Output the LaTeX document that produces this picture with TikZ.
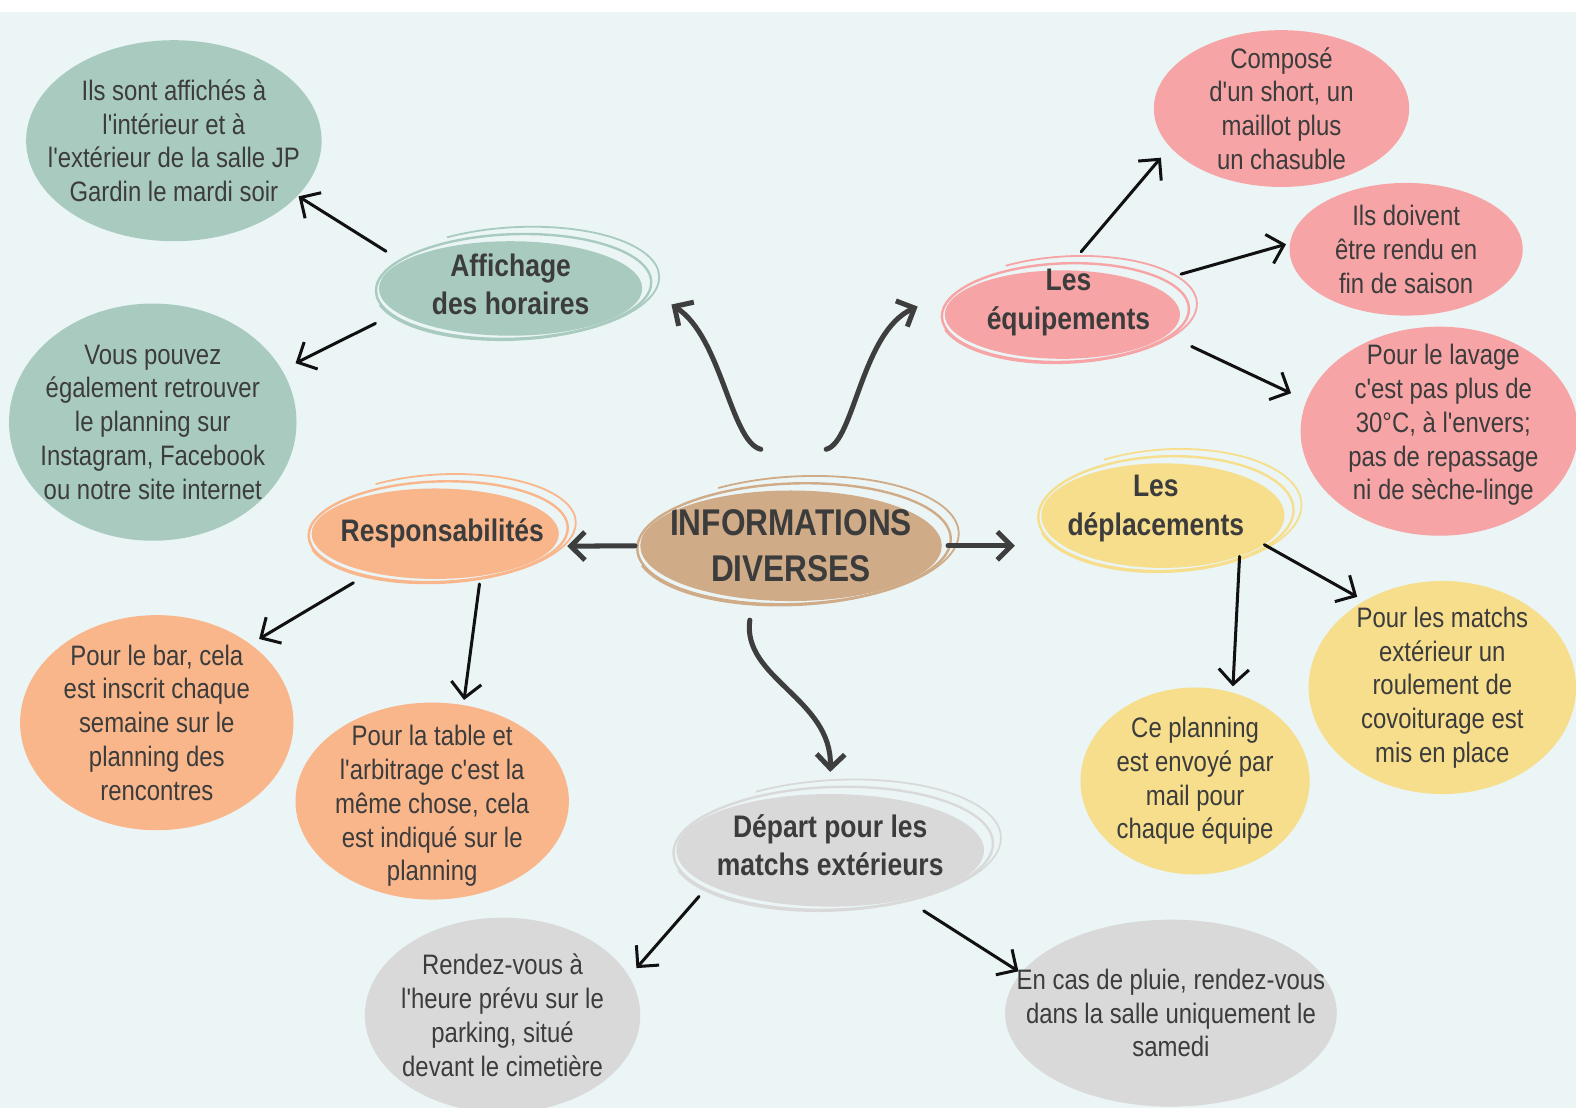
\documentclass[tikz,border=0pt]{standalone}
\usepackage{fontspec}
\newfontfamily\cond{Liberation Sans}[FakeStretch=0.85]
\usetikzlibrary{arrows.meta,shapes.geometric,calc}
\definecolor{bg}{HTML}{EBF5F6}
\definecolor{grn}{HTML}{A9CBBF}
\definecolor{pnk}{HTML}{F6A4A5}
\definecolor{org}{HTML}{F9B68B}
\definecolor{ylw}{HTML}{F6DE8C}
\definecolor{gry}{HTML}{D9D9D9}
\definecolor{tan}{HTML}{CFAB87}
\definecolor{txt}{HTML}{3C3C3C}
\definecolor{thk}{HTML}{3E3E3E}
\definecolor{thn}{HTML}{111111}
\newcommand\bodyf{\cond\fontsize{28}{33.6}\selectfont}
\newcommand\headf{\cond\bfseries\fontsize{31}{38}\selectfont}
\newcommand\mainf{\cond\bfseries\fontsize{37}{45}\selectfont}
\newcommand\scribble[4]{%
  \pgfmathsetmacro\ra{#3+6}\pgfmathsetmacro\rb{#4+5}%
  \pgfmathsetmacro\rc{#3+11}\pgfmathsetmacro\rd{#4+9}%
  \draw[#2, line width=2.4pt, shift={($(#1)+(3,-2)$)}, rotate=2] (0,0) ellipse [x radius=\ra, y radius=\rb];
  \draw[#2, line width=1.8pt, shift={($(#1)+(6,-5)$)}, rotate=3] (-118:\rc\space and \rd) arc[start angle=-118, end angle=165, x radius=\rc, y radius=\rd];
}
\tikzset{
  leaf/.style={ellipse, inner sep=0pt, draw=none},
  bodytxt/.style={text=txt, align=center, font=\bodyf},
  headtxt/.style={text=txt, align=center, font=\headf},
  maintxt/.style={text=txt, align=center, font=\mainf},
  thinarr/.style={draw=thn, line width=3pt, line cap=round, -{Straight Barb[length=15pt,width=30pt]}},
  thickarr/.style={draw=thk, line width=5pt, line cap=round, -{Straight Barb[length=14pt,width=28pt]}},
}
\begin{document}
\begin{tikzpicture}[x=1pt,y=-1pt]
\useasboundingbox (0,0) rectangle (1568,1102);
\fill[white] (0,0) rectangle (1568,1102);
\fill[bg] (0,12) rectangle (1568,1102);

% leaf ellipses
\node[leaf, fill=grn, minimum width=294pt, minimum height=200pt,
  label={[bodytxt]center:{Ils sont affichés à\\l'intérieur et à\\l'extérieur de la salle JP\\Gardin le mardi soir}}] (g1) at (173,140) {};
\node[leaf, fill=grn, minimum width=286pt, minimum height=236pt,
  label={[bodytxt]center:{Vous pouvez\\également retrouver\\le planning sur\\Instagram, Facebook\\ou notre site internet}}] (g2) at (152,420) {};
\node[leaf, fill=pnk, minimum width=254pt, minimum height=156pt,
  label={[bodytxt]center:{Composé\\d'un short, un\\maillot plus\\un chasuble}}] (p1) at (1275,108) {};
\node[leaf, fill=pnk, minimum width=232pt, minimum height=132pt,
  label={[bodytxt]center:{Ils doivent\\être rendu en\\fin de saison}}] (p2) at (1399,248) {};
\node[leaf, fill=pnk, minimum width=276pt, minimum height=208pt,
  label={[bodytxt, xshift=4pt, yshift=6pt]center:{Pour le lavage\\c'est pas plus de\\30°C, à l'envers;\\pas de repassage\\ni de sèche-linge}}] (p3) at (1432,429) {};
\node[leaf, fill=ylw, minimum width=266pt, minimum height=212pt,
  label={[bodytxt]center:{Pour les matchs\\extérieur un\\roulement de\\covoiturage est\\mis en place}}] (y1) at (1435,684) {};
\node[leaf, fill=ylw, minimum width=228pt, minimum height=186pt,
  label={[bodytxt]center:{Ce planning\\est envoyé par\\mail pour\\chaque équipe}}] (y2) at (1189,777) {};
\node[leaf, fill=org, minimum width=272pt, minimum height=214pt,
  label={[bodytxt]center:{Pour le bar, cela\\est inscrit chaque\\semaine sur le\\planning des\\rencontres}}] (o1) at (156,719) {};
\node[leaf, fill=org, minimum width=272pt, minimum height=196pt,
  label={[bodytxt, yshift=-5pt]center:{Pour la table et\\l'arbitrage c'est la\\même chose, cela\\est indiqué sur le\\planning}}] (o2) at (430,797) {};
\node[leaf, fill=gry, minimum width=274pt, minimum height=194pt,
  label={[bodytxt]center:{Rendez-vous à\\l'heure prévu sur le\\parking, situé\\devant le cimetière}}] (gr1) at (500,1010) {};
\node[leaf, fill=gry, minimum width=330pt, minimum height=186pt,
  label={[bodytxt]center:{En cas de pluie, rendez-vous\\dans la salle uniquement le\\samedi}}] (gr2) at (1165,1008) {};

% header ellipses
\node[leaf, fill=grn, minimum width=262pt, minimum height=94pt,
  label={[headtxt, yshift=4pt]center:{Affichage\\des horaires}}] (aff) at (508,287) {};
\node[leaf, fill=pnk, minimum width=234pt, minimum height=88pt,
  label={[headtxt, xshift=6pt, yshift=12pt]center:{Les\\équipements}}] (equ) at (1057,313) {};
\node[leaf, fill=ylw, minimum width=242pt, minimum height=104pt,
  label={[headtxt, xshift=-7pt, yshift=7pt]center:{Les\\déplacements}}] (dep) at (1157,513) {};
\node[leaf, fill=org, minimum width=246pt, minimum height=90pt,
  label={[headtxt, xshift=7pt]center:{Responsabilités}}] (resp) at (433,531) {};
\node[leaf, fill=tan, minimum width=300pt, minimum height=110pt,
  label={[maintxt]center:{INFORMATIONS\\DIVERSES}}] (info) at (787,543) {};
\node[leaf, fill=gry, minimum width=306pt, minimum height=112pt,
  label={[headtxt, yshift=5pt]center:{Départ pour les\\matchs extérieurs}}] (depart) at (826,846) {};

\scribble{aff}{grn}{131}{47}
\scribble{equ}{pnk}{117}{44}
\scribble{dep}{ylw}{121}{52}
\scribble{resp}{org}{123}{45}
\scribble{info}{tan}{150}{55}
\scribble{depart}{gry}{153}{56}

% thick connectors from the centre
\draw[thickarr] ($(info)+(-30,-96)$) .. controls ($(info)+(-60,-103)$) and ($(aff)+(210,48)$) .. ($(aff)+(160,16)$);
\draw[thickarr] ($(info)+(35,-96)$) .. controls ($(info)+(63,-103)$) and ($(equ)+(-200,17)$) .. ($(equ)+(-144,-8)$);
\draw[thickarr, shorten <=5pt, shorten >=13pt] (info.180) -- (resp.-6);
\draw[thickarr, shorten <=6pt, shorten >=26pt] (info.0) -- (info.0 -| dep.west);
\draw[thickarr] ($(info)+(-41,74)$) .. controls ($(info)+(-49,132)$) and ($(depart)+(2,-151)$) .. ($(depart)+(0,-78)$);

% thin connectors
\draw[thinarr, shorten <=19pt, shorten >=1pt] (aff.166) -- (g1.-24);
\draw[thinarr, shorten <=24pt, shorten >=15pt] (aff.-168) -- (g2.22);
\draw[thinarr, shorten <=24pt, shorten >=14pt] (equ.86) -- (p1.-161);
\draw[thinarr, shorten <=35pt, shorten >=4pt] (equ.20) -- (p2.177);
\draw[thinarr, shorten <=27pt, shorten >=17pt] (equ.-11) -- (p3.167);
\draw[thinarr, shorten >=8pt] (dep.-16) -- (y1.132);
\draw[thinarr, shorten >=6pt] (dep.-28) -- (y2.67);
\draw[thinarr, shorten <=20pt, shorten >=10pt] (resp.-149) -- (o1.40);
\draw[thinarr, shorten <=8pt, shorten >=5pt] (resp.-43) -- (o2.72);
\draw[thinarr, shorten <=15pt, shorten >=11pt] (depart.-164) -- (gr1.17);
\draw[thinarr, shorten <=21pt, shorten >=3pt] (depart.-33) -- (gr2.165);
\end{tikzpicture}
\end{document}
